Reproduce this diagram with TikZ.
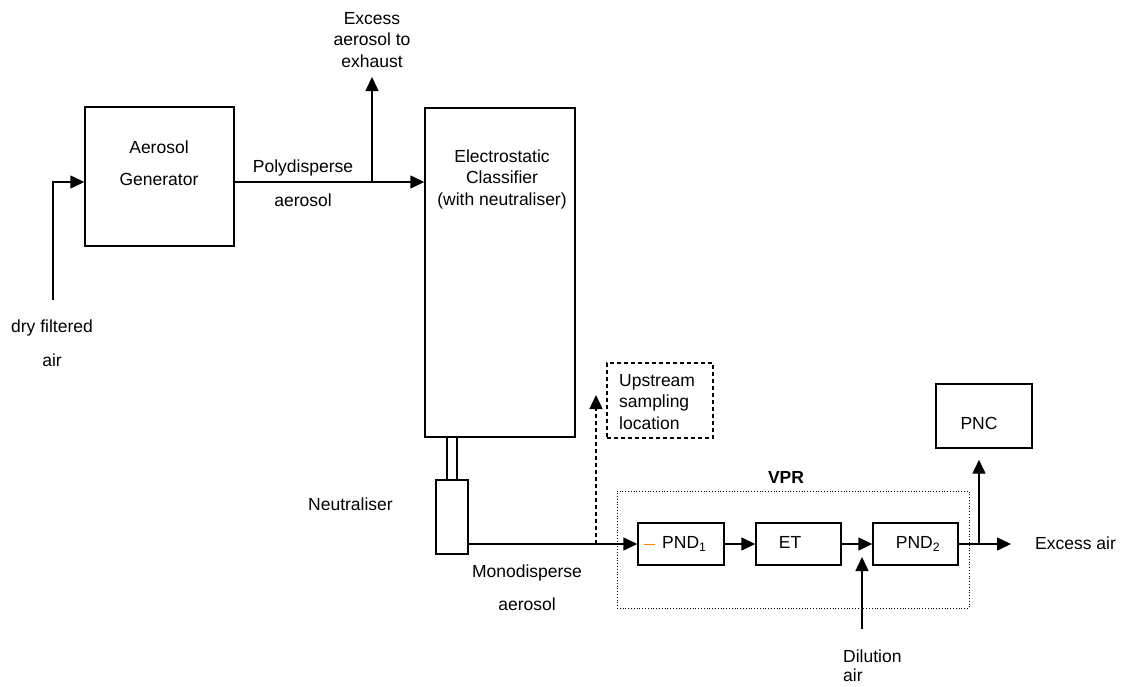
\documentclass[tikz,border=0pt]{standalone}
\usepackage{fontspec}
\setmainfont{Liberation Sans}
\usetikzlibrary{arrows.meta,calc}
\begin{document}
\begin{tikzpicture}[x=1pt,y=-1pt,
  every node/.style={font=\fontsize{17.5}{21.5}\selectfont, inner sep=0pt},
  blk/.style={draw, line width=1.4pt, minimum width=#1},
  lbl/.style={align=center},
  lbll/.style={align=left},
  tip/.style={-{Triangle[length=14pt,width=13pt]}},
  arr/.style={line width=1.4pt, tip},
  ln/.style={line width=1.4pt},
  dsh/.style={line width=1.4pt, dash pattern=on 4pt off 3pt},
]
\useasboundingbox (0,0) rectangle (1121,686);

% boxes
\node[blk=149pt, minimum height=139pt] (gen) at (159.5,176.5) {};
\node[blk=150pt, minimum height=329pt] (cls) at (500,272.5) {};
\node[blk=32pt, minimum height=74pt] (neut) at (452,517) {};
\node[draw, line width=1.4pt, dash pattern=on 4pt off 3pt, minimum width=106pt, minimum height=75pt] (up) at (660,400.5) {};
\node[draw, line width=0.8pt, dotted, minimum width=352pt, minimum height=117pt] (vpr) at (793,549.5) {};
\node[blk=86pt, minimum height=42pt] (pnd1) at (681,544) {};
\node[blk=85pt, minimum height=42pt] (et) at (798.5,544) {};
\node[blk=85pt, minimum height=42pt] (pnd2) at (915.5,544) {};
\node[blk=96pt, minimum height=64pt] (pnc) at (984,416) {};

% texts
\node (tgen1) at (159,147) {Aerosol};
\node (tgen2) at (159,179) {Generator};
\node[lbl] (tcls) at (502,179) {Electrostatic\\Classifier\\(with neutraliser)};
\node[lbl] (texh) at (372,40) {Excess\\aerosol to\\exhaust};
\node (tpoly1) at (303,168) {Polydisperse};
\node (tpoly2) at (303,200) {aerosol};
\node (tair1) at (52,328) {dry filtered};
\node (tair2) at (52,360) {air};
\node[anchor=east] (tneut) at (393,504) {Neutraliser};
\node (tmono1) at (527,573) {Monodisperse};
\node (tmono2) at (527,604) {aerosol};
\node[lbll, anchor=west] (tup) at (619,402) {Upstream\\sampling\\location};
\node[font=\fontsize{17.5}{21.5}\selectfont\bfseries] (tvpr) at (786,477) {VPR};
\node[anchor=west] (tpnd1) at (662,544) {PND\textsubscript{1}};
\node (tet) at (790,542) {ET};
\node (tpnd2) at (918,544) {PND\textsubscript{2}};
\node (tpnc) at (979,423) {PNC};
\node[anchor=west] (texair) at (1035,543) {Excess air};
\node[lbll, anchor=west, font=\fontsize{17.5}{19}\selectfont] (tdil) at (843,666) {Dilution\\air};

% coordinates
\coordinate (airin) at (53,300);
\coordinate (pl) at (0,182);
\coordinate (br1) at (372,182);
\coordinate (exh) at (372,77);
\coordinate (dsb) at (596,544);
\coordinate (dst) at (596,395);
\coordinate (dilb) at (862,629);
\coordinate (dilt) at (862,557);
\coordinate (br2) at (979,544);
\coordinate (exend) at (1011,544);

% connectors
\draw[arr] (airin) |- (gen.west |- pl);
\draw[arr] (gen.east |- pl) -- (cls.west |- pl);
\draw[arr] (br1) -- (exh);
\draw[ln] ([xshift=-5pt]neut.north) -- ([xshift=-5pt]neut.north |- cls.south);
\draw[ln] ([xshift=5pt]neut.north) -- ([xshift=5pt]neut.north |- cls.south);
\draw[arr] (neut.east |- pnd1.west) -- (pnd1.west);
\draw[dsh, tip] (dsb) -- (dst);
\draw[arr] (pnd1) -- (et);
\draw[arr] (et) -- (pnd2);
\draw[arr] (dilb) -- (dilt);
\draw[arr] (pnd2.east) -- (exend);
\draw[arr, shorten >=11pt] (br2) -- (br2 |- pnc.south);
\draw[orange, line width=1pt] (644,544) -- (655,544);
\end{tikzpicture}
\end{document}
